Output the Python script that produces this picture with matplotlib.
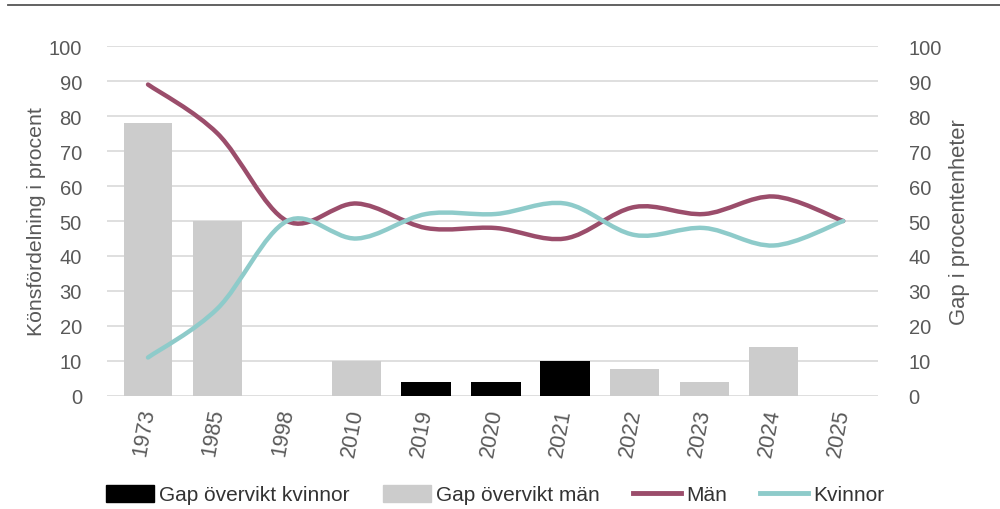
import numpy as np
import matplotlib
matplotlib.use('Agg')
import matplotlib.pyplot as plt
from matplotlib.path import Path
from matplotlib.patches import PathPatch, Patch
from matplotlib.lines import Line2D

plt.rcParams['font.family'] = ['Liberation Sans', 'DejaVu Sans']

# data
years = ['1973', '1985', '1998', '2010', '2019', '2020', '2021', '2022', '2023', '2024', '2025']
man = [89, 75, 50, 55, 48, 48, 45, 54, 52, 57, 50]
kvinnor = [11, 25, 50, 45, 52, 52, 55, 46, 48, 43, 50]
gap_kvinnor = [0, 0, 0, 0, 4, 4, 10, 0, 0, 0, 0]
gap_man = [78, 50, 0, 10, 0, 0, 0, 7.7, 4, 14, 0]

col_man = '#9b4d6b'
col_kv = '#8ecbca'
col_gray = '#cccccc'
txt = '#595959'


def smooth_path(xs, ys):
    # Excel-like smoothed line: Catmull-Rom segments as cubic Bezier curves
    pts = np.column_stack([xs, ys]).astype(float)
    n = len(pts)
    verts = [pts[0]]
    codes = [Path.MOVETO]
    for i in range(n - 1):
        p0 = pts[i - 1] if i > 0 else pts[i]
        p1 = pts[i]
        p2 = pts[i + 1]
        p3 = pts[i + 2] if i + 2 < n else pts[i + 1]
        c1 = p1 + (p2 - p0) / 6.0
        c2 = p2 - (p3 - p1) / 6.0
        verts += [c1, c2, p2]
        codes += [Path.CURVE4] * 3
    return Path(verts, codes)


fig = plt.figure(figsize=(10, 5.1), dpi=100)
ax = fig.add_axes([0.107, 0.2216, 0.771, 0.6862])
x = np.arange(len(years))

ax.bar(x, gap_kvinnor, width=0.72, color='black', zorder=2)
ax.bar(x, gap_man, width=0.7, color=col_gray, zorder=2)

for vals, c in [(man, col_man), (kvinnor, col_kv)]:
    ax.add_patch(PathPatch(smooth_path(x, vals), facecolor='none', edgecolor=c,
                           lw=3.2, capstyle='round', joinstyle='round', zorder=3))

ax.set_xlim(-0.59, 10.5)
ax.set_ylim(0, 100)
ax.set_yticks(range(0, 101, 10))
ax.grid(axis='y', color='#d9d9d9', lw=1.2, zorder=0)
ax.set_axisbelow(True)
for s in ax.spines.values():
    s.set_visible(False)
ax.tick_params(axis='y', length=0, labelsize=14.5, colors=txt, pad=18)
ax.set_xticks(x)
ax.set_xticklabels(years, rotation=80, ha='right', va='center', rotation_mode='anchor')
ax.tick_params(axis='x', length=0, labelsize=15.5, colors=txt, pad=9)
ax.set_ylabel('Könsfördelning i procent', fontsize=15.3, color=txt, labelpad=2)

ax2 = ax.twinx()
ax2.set_ylim(0, 100)
ax2.set_yticks(range(0, 101, 10))
for s in ax2.spines.values():
    s.set_visible(False)
ax2.tick_params(length=0, labelsize=14.5, colors=txt, pad=22)
ax2.set_ylabel('Gap i procentenheter', fontsize=15.8, color=txt, labelpad=5)

# line at the very top of the picture
fig.add_artist(Line2D([0.008, 1.0], [0.988, 0.988], color='#555555', lw=1.3))

handles = [Patch(color='black'), Patch(color=col_gray),
           Line2D([], [], color=col_man, lw=3.5), Line2D([], [], color=col_kv, lw=3.5)]
labels = ['Gap övervikt kvinnor', 'Gap övervikt män', 'Män', 'Kvinnor']
fig.legend(handles, labels, loc='center', bbox_to_anchor=(0.495, 0.028), ncol=4, frameon=False,
           fontsize=15, labelcolor='#333333', handlelength=2.3, handleheight=0.85,
           handletextpad=0.25, columnspacing=1.6)

fig.savefig('out.png', dpi=100)
